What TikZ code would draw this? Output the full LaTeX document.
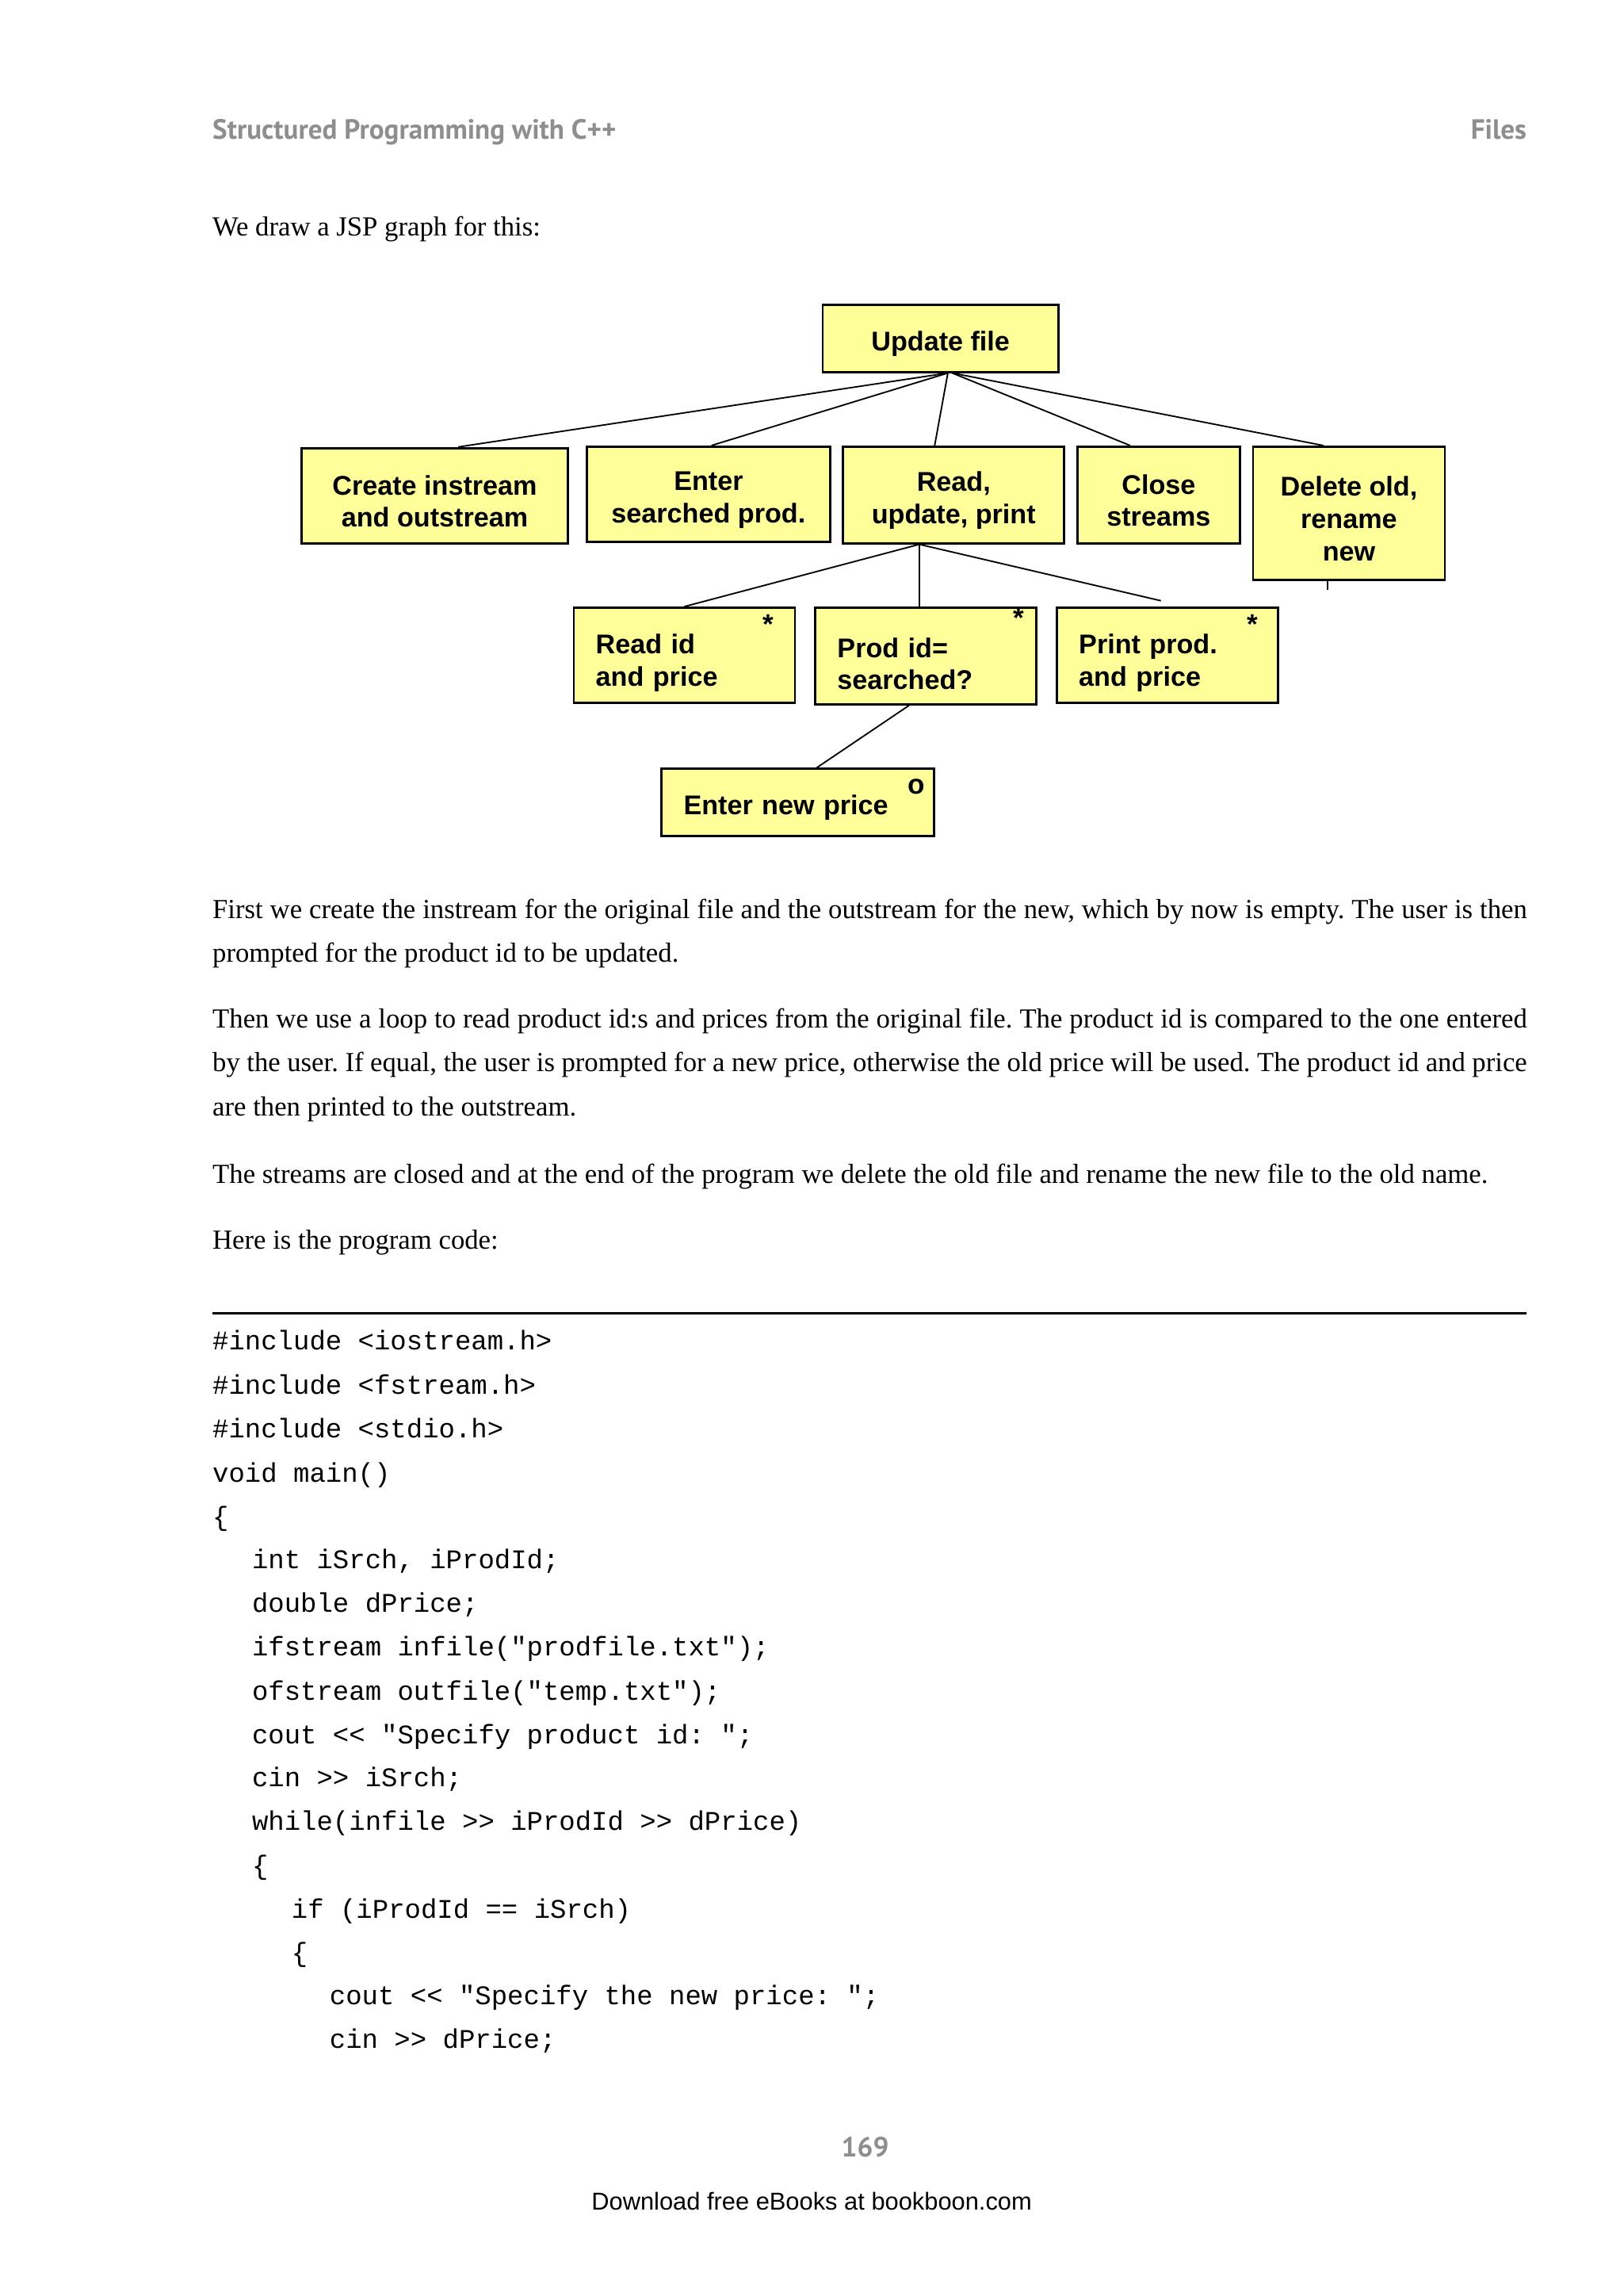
\documentclass[tikz,border=0pt]{standalone}
\usepackage{fontspec}
\setmainfont{Liberation Serif}
\setsansfont{Liberation Sans}
\newfontfamily\codefont{Liberation Mono}
\newfontfamily\headfont{PT Sans}
\definecolor{jspyellow}{HTML}{FFFF99}
\definecolor{headgray}{HTML}{8E8E8E}
\frenchspacing
\newcommand{\jstrut}{\rule{0pt}{21pt}}
\newcommand{\jlstrut}{\rule{0pt}{24pt}}

\begin{document}
\begin{tikzpicture}[x=1pt, y=-1pt,
  jsp/.style={draw, line width=1.5pt, fill=jspyellow, inner sep=0pt,
    font=\fontsize{18.5}{22}\selectfont\sffamily\bfseries, align=center},
  jspleft/.style={jsp, align=left, inner xsep=15pt},
  jspmark/.style={inner sep=0pt, font=\fontsize{19}{22}\selectfont\sffamily\bfseries},
  link/.style={line width=1pt},
  bodytext/.style={anchor=base west, inner sep=0pt, text width=898pt, align=justify,
    font=\fontsize{18.8}{30}\selectfont},
  codeline/.style={anchor=base west, inner sep=0pt, font=\fontsize{18.4}{30}\codefont},
  headtext/.style={inner sep=0pt, text=headgray, font=\fontsize{19}{22}\headfont\bfseries}]

  % Page
  \fill[white] (0,0) rectangle (1109,1568);
  \useasboundingbox (0,0) rectangle (1109,1568);

  % Running header
  \node[headtext, anchor=base west] (hdl) at (145,95) {Structured Programming with C++};
  \node[headtext, anchor=base east] (hdr) at (1043,95) {Files};

  \node[bodytext] (intro) at (145,161) {We draw a JSP graph for this:};

  % JSP graph: root
  \node[jsp, minimum width=161pt, minimum height=46pt] (upd) at (642.5,231) {\jstrut Update file};

  % Second level
  \node[jsp, minimum width=182pt, minimum height=65pt] (cre) at (297,338.5) {\jstrut Create instream\\and outstream};
  \node[jsp, minimum width=166pt, minimum height=65pt] (ent) at (484,337.5) {\jstrut Enter\\searched prod.};
  \node[jsp, minimum width=151pt, minimum height=66pt] (rup) at (651.5,338) {\jstrut Read,\\update, print};
  \node[jsp, minimum width=111pt, minimum height=66pt] (cls) at (791.5,338) {\jstrut Close\\streams};
  \node[jsp, minimum width=131pt, minimum height=91pt] (del) at (921.5,350.5) {\jstrut Delete old,\\rename\\new};

  % Third level (iterations)
  \node[jspleft, text width=121pt, minimum height=65pt] (rid) at (467.5,447.5) {\jlstrut Read id\\and price};
  \node[jspleft, text width=121pt, minimum height=66pt] (pid) at (632.5,448) {\jlstrut Prod id=\\searched?};
  \node[jspleft, text width=121pt, minimum height=65pt] (prt) at (797.5,447.5) {\jlstrut Print prod.\\and price};
  \node[jspmark] (ridm) at ([xshift=-19pt,yshift=-12pt]rid.north east) {*};
  \node[jspmark] (pidm) at ([xshift=-13pt,yshift=-8pt]pid.north east) {*};
  \node[jspmark] (prtm) at ([xshift=-18pt,yshift=-12pt]prt.north east) {*};

  % Fourth level (selection)
  \node[jspleft, text width=156pt, minimum height=46pt] (enp) at (545,548) {\jstrut Enter new price};
  \node[jspmark] (enpm) at ([xshift=-13pt,yshift=-13pt]enp.north east) {o};

  % Connectors
  \draw[link] ([xshift=5pt]upd.south) -- ([xshift=16pt]cre.north);
  \draw[link] ([xshift=5pt]upd.south) -- ([xshift=2pt]ent.north);
  \draw[link] ([xshift=5pt]upd.south) -- ([xshift=-13pt]rup.north);
  \draw[link] ([xshift=8pt]upd.south) -- ([xshift=-19.5pt]cls.north);
  \draw[link] ([xshift=8pt]upd.south) -- ([xshift=-17.5pt]del.north);
  \draw[link] ([xshift=-14.5pt]del.south) -- ++(0,6);
  \draw[link] ([xshift=-23.5pt]rup.south) -- (rid.north);
  \draw[link] ([xshift=-23.5pt]rup.south) -- ([xshift=-4.5pt]pid.north);
  \draw[link] ([xshift=-23.5pt]rup.south) -- ([xshift=-4.5pt,yshift=4pt]prt.north);
  \draw[link] ([xshift=-11.5pt]pid.south) -- ([xshift=13pt]enp.north);

  % Body text
  \node[bodytext] (par1) at (145,627) {First we create the instream for the original file and the outstream for the new, which by now is empty. The user is then\linebreak prompted for the product id to be updated.};
  \node[bodytext] (par2) at (145,702) {Then we use a loop to read product id:s and prices from the original file. The product id is compared to the one entered\linebreak by the user. If equal, the user is prompted for a new price, otherwise the old price will be used. The product id and price\linebreak are then printed to the outstream.};
  \node[bodytext] (par3) at (145,808) {The streams are closed and at the end of the program we delete the old file and rename the new file to the old name.};
  \node[bodytext] (par4) at (145,853) {Here is the program code:};

  % Program code
  \draw[line width=1.8pt] (145,897) -- (1043,897);
  \node[codeline] (c1) at (145,922) {\#include <iostream.h>};
  \node[codeline] (c2) at (145,952) {\#include <fstream.h>};
  \node[codeline] (c3) at (145,982) {\#include <stdio.h>};
  \node[codeline] (c4) at (145,1012) {void main()};
  \node[codeline] (c5) at (145,1042) {\{};
  \node[codeline] (c6) at (172,1071) {int iSrch, iProdId;};
  \node[codeline] (c7) at (172,1101) {double dPrice;};
  \node[codeline] (c8) at (172,1131) {ifstream infile("prodfile.txt");};
  \node[codeline] (c9) at (172,1161) {ofstream outfile("temp.txt");};
  \node[codeline] (c10) at (172,1191) {cout << "Specify product id: ";};
  \node[codeline] (c11) at (172,1220) {cin >> iSrch;};
  \node[codeline] (c12) at (172,1250) {while(infile >> iProdId >> dPrice)};
  \node[codeline] (c13) at (172,1280) {\{};
  \node[codeline] (c14) at (199,1310) {if (iProdId == iSrch)};
  \node[codeline] (c15) at (199,1340) {\{};
  \node[codeline] (c16) at (225,1369) {cout << "Specify the new price: ";};
  \node[codeline] (c17) at (225,1399) {cin >> dPrice;};

  % Footer
  \node[headtext, anchor=base] (pgno) at (591,1473) {169};
  \node[inner sep=0pt, anchor=base, font=\fontsize{16.7}{20}\sffamily] (dl) at (554.5,1509) {Download free eBooks at bookboon.com};
\end{tikzpicture}
\end{document}
